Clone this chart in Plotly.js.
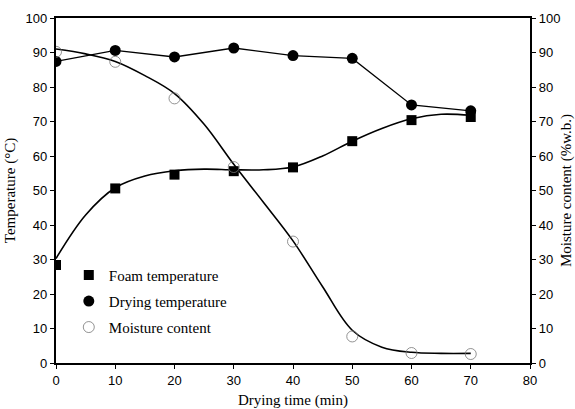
<!DOCTYPE html>
<html>
<head>
<meta charset="utf-8">
<script src="https://cdn.plot.ly/plotly-3.0.1.min.js"></script>
<style>html,body{margin:0;padding:0;background:#fff;}#chart{width:575px;height:409px;}</style>
</head>
<body>
<div id="chart"></div>
<script>
// Measured points
const timeMin = [0, 10, 20, 30, 40, 50, 60, 70];
const foamTemp = [28.4, 50.6, 54.6, 55.6, 56.7, 64.3, 70.4, 71.3];
const dryingTemp = [87.4, 90.6, 88.7, 91.3, 89.1, 88.3, 74.8, 73.1];
const moisture = [90.2, 87.3, 76.7, 56.8, 35.2, 7.7, 2.9, 2.6];

// Fitted curves
const fitTime = [0, 5, 10, 15, 20, 25, 30, 35, 40, 45, 50, 55, 60, 65, 70];
const foamFit = [30.3, 42.9, 50.8, 54.2, 55.7, 56.2, 56.0, 56.0, 56.8, 60.0, 64.3, 68.0, 70.8, 72.1, 71.8];
const moistureFit = [91.0, 89.6, 87.4, 83.3, 78.1, 69.2, 57.6, 46.6, 35.4, 22.1, 9.5, 4.6, 3.1, 2.8, 2.8];

const serif = 'Liberation Serif, Times New Roman, serif';
const sans = 'Liberation Sans, Arial, sans-serif';

const traces = [
  {x: fitTime, y: foamFit, mode: 'lines', line: {color: '#000', width: 1.6, shape: 'spline', smoothing: 1}, showlegend: false, hoverinfo: 'skip'},
  {x: fitTime, y: moistureFit, yaxis: 'y2', mode: 'lines', line: {color: '#000', width: 1.6, shape: 'spline', smoothing: 1}, showlegend: false, hoverinfo: 'skip'},
  {x: timeMin, y: dryingTemp, mode: 'lines', line: {color: '#000', width: 1.3}, showlegend: false, hoverinfo: 'skip'},
  {x: timeMin, y: foamTemp, mode: 'markers', name: 'Foam temperature', legendgroup: 'a', marker: {symbol: 'square', size: 10, color: '#000'}},
  {x: timeMin, y: dryingTemp, mode: 'markers', name: 'Drying temperature', legendgroup: 'b', marker: {symbol: 'circle', size: 11, color: '#000'}},
  {x: timeMin, y: moisture, yaxis: 'y2', mode: 'markers', name: 'Moisture content', legendgroup: 'c', marker: {symbol: 'circle-open', size: 11, color: '#777', line: {width: 0.8, color: '#666'}}}
];

const axisCommon = {
  showgrid: false, zeroline: false, showline: true, linecolor: '#000', linewidth: 2.2,
  ticks: 'outside', ticklen: 4, tickwidth: 1, tickcolor: '#000',
  tickfont: {family: sans, size: 13, color: '#000'}
};

const layout = {
  width: 575, height: 409,
  margin: {l: 56, r: 45, t: 18, b: 46},
  paper_bgcolor: '#fff', plot_bgcolor: '#fff',
  xaxis: Object.assign({}, axisCommon, {
    range: [0, 80], dtick: 10, tick0: 0, mirror: true,
    title: {text: 'Drying time (min)', font: {family: serif, size: 15, color: '#000'}, standoff: 12}
  }),
  yaxis: Object.assign({}, axisCommon, {
    range: [0, 100], dtick: 10, tick0: 0,
    title: {text: 'Temperature (°C)', font: {family: serif, size: 15, color: '#000'}, standoff: 6}
  }),
  yaxis2: Object.assign({}, axisCommon, {
    range: [0, 100], dtick: 10, tick0: 0, overlaying: 'y', side: 'right',
    title: {text: 'Moisture content (%w.b.)', font: {family: serif, size: 15, color: '#000'}, standoff: 3}
  }),
  legend: {
    x: 0.027, y: 0.302, xanchor: 'left', yanchor: 'top',
    bgcolor: 'rgba(0,0,0,0)', borderwidth: 0,
    font: {family: serif, size: 15, color: '#000'},
    traceorder: 'grouped', tracegroupgap: 3.5
  },
  showlegend: true
};

Plotly.newPlot('chart', traces, layout, {staticPlot: true, displayModeBar: false});
</script>
</body>
</html>
